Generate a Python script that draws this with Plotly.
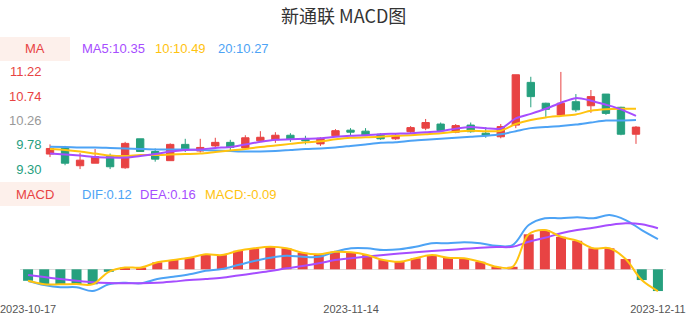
import plotly.graph_objects as go

W, H = 686, 320

dates = ["2023-10-17", "2023-10-18", "2023-10-19", "2023-10-20", "2023-10-23", "2023-10-24",
         "2023-10-25", "2023-10-26", "2023-10-27", "2023-10-30", "2023-10-31",
         "2023-11-01", "2023-11-02", "2023-11-03", "2023-11-06", "2023-11-07", "2023-11-08",
         "2023-11-09", "2023-11-10", "2023-11-13", "2023-11-14", "2023-11-15", "2023-11-16",
         "2023-11-17", "2023-11-20", "2023-11-21", "2023-11-22", "2023-11-23", "2023-11-24",
         "2023-11-27", "2023-11-28", "2023-11-29", "2023-11-30",
         "2023-12-01", "2023-12-04", "2023-12-05", "2023-12-06", "2023-12-07", "2023-12-08",
         "2023-12-11"]

open_ = [9.60, 9.72, 9.37, 9.42, 9.57, 9.33, 9.90, 9.65, 9.47, 9.79, 9.66, 9.76, 9.83, 9.72,
         9.86, 9.88, 9.97, 9.89, 9.80, 9.96, 10.07, 10.05, 9.99, 9.90, 10.04, 10.11, 10.19,
         10.03, 10.17, 10.01, 9.94, 10.17, 11.01, 10.60, 10.37, 10.63, 10.55, 10.78, 10.52, 9.99]
close = [9.71, 9.42, 9.48, 9.55, 9.35, 9.81, 9.65, 9.50, 9.79, 9.68, 9.73, 9.83, 9.73, 9.92,
         9.93, 9.97, 9.89, 9.86, 9.91, 10.06, 10.03, 9.97, 9.90, 9.97, 10.12, 10.22, 10.06,
         10.16, 10.04, 9.97, 10.14, 11.16, 10.73, 10.48, 10.60, 10.47, 10.73, 10.40, 9.99, 10.13]
high = [9.79, 9.76, 9.62, 9.70, 9.61, 9.84, 9.90, 9.71, 9.81, 9.90, 9.90, 9.92, 9.88, 9.97,
        10.05, 10.03, 10.01, 9.96, 9.93, 10.09, 10.11, 10.11, 10.01, 10.01, 10.15, 10.29, 10.22,
        10.19, 10.22, 10.13, 10.19, 11.16, 11.12, 10.61, 11.22, 10.78, 10.86, 10.78, 10.53, 10.15]
low = [9.54, 9.38, 9.30, 9.42, 9.30, 9.31, 9.65, 9.45, 9.47, 9.64, 9.63, 9.73, 9.68, 9.71,
       9.84, 9.82, 9.84, 9.79, 9.76, 9.94, 9.97, 9.97, 9.88, 9.88, 10.01, 10.07, 10.04,
       10.01, 10.02, 9.92, 9.91, 10.11, 10.52, 10.33, 10.37, 10.43, 10.41, 10.37, 9.97, 9.80]

ma5 = [9.61, 9.59, 9.57, 9.54, 9.53, 9.53, 9.56, 9.60, 9.65, 9.68, 9.69, 9.72, 9.74, 9.79,
       9.84, 9.88, 9.89, 9.90, 9.91, 9.94, 9.96, 9.97, 9.99, 10.00, 10.01, 10.03, 10.05,
       10.10, 10.13, 10.11, 10.10, 10.30, 10.39, 10.49, 10.61, 10.70, 10.65, 10.57, 10.48, 10.35]
ma10 = [9.70, 9.68, 9.65, 9.61, 9.57, 9.56, 9.58, 9.58, 9.59, 9.60, 9.61, 9.64, 9.67, 9.70,
        9.74, 9.77, 9.80, 9.83, 9.85, 9.89, 9.92, 9.93, 9.94, 9.96, 9.97, 9.99, 10.01,
        10.04, 10.06, 10.05, 10.06, 10.19, 10.27, 10.32, 10.35, 10.38, 10.45, 10.48, 10.49, 10.49]
ma20 = [9.745, 9.74, 9.73, 9.73, 9.72, 9.71, 9.70, 9.69, 9.69, 9.69, 9.68, 9.67, 9.66, 9.65,
        9.65, 9.66, 9.68, 9.70, 9.71, 9.73, 9.76, 9.79, 9.82, 9.83, 9.86, 9.88, 9.90,
        9.92, 9.94, 9.96, 9.99, 10.05, 10.11, 10.13, 10.15, 10.18, 10.22, 10.26, 10.26, 10.27]

dif = [-0.047, -0.063, -0.072, -0.072, -0.087, -0.060, -0.054, -0.056, -0.039, -0.030,
       -0.020, -0.006, 0.001, 0.017, 0.033, 0.046, 0.054, 0.050, 0.050, 0.070,
       0.084, 0.084, 0.077, 0.080, 0.090, 0.104, 0.104, 0.108, 0.104, 0.094,
       0.097, 0.177, 0.204, 0.204, 0.208, 0.204, 0.217, 0.197, 0.157, 0.121]
dea = [-0.023, -0.031, -0.039, -0.046, -0.052, -0.055, -0.056, -0.056, -0.054, -0.049,
       -0.043, -0.039, -0.034, -0.025, -0.016, -0.007, 0.004, 0.013, 0.024, 0.037,
       0.044, 0.051, 0.057, 0.063, 0.068, 0.073, 0.077, 0.082, 0.086, 0.089,
       0.090, 0.110, 0.126, 0.144, 0.157, 0.166, 0.177, 0.184, 0.180, 0.164]
macd = [-0.046, -0.060, -0.060, -0.059, -0.060, -0.010, 0.007, 0.007, 0.028, 0.037,
        0.046, 0.060, 0.057, 0.074, 0.084, 0.090, 0.084, 0.066, 0.060, 0.070,
        0.068, 0.057, 0.037, 0.030, 0.044, 0.057, 0.046, 0.044, 0.030, 0.010,
        0.010, 0.140, 0.157, 0.130, 0.114, 0.084, 0.084, 0.041, -0.043, -0.087]

price_ticks = [9.30, 9.78, 10.26, 10.74, 11.22]
price_tick_colors = ["#26a07e", "#26a07e", "#999999", "#e84343", "#e84343"]
xtick_labels = [dates[0], dates[20], dates[39]]

RED = "#e84343"
GREEN = "#26a07e"
PURPLE = "#a64dff"
YELLOW = "#ffc30f"
BLUE = "#4da3f5"
FONT = "Liberation Sans, Arial, sans-serif"


def px_y(y):
    return 1 - y / H


def px_x(x):
    return x / W


fig = go.Figure()

fig.add_trace(go.Candlestick(
    x=dates, open=open_, high=high, low=low, close=close,
    increasing=dict(line=dict(color=RED, width=1), fillcolor=RED),
    decreasing=dict(line=dict(color=GREEN, width=1), fillcolor=GREEN),
    whiskerwidth=0, xaxis="x", yaxis="y", showlegend=False,
))
for vals, col in [(ma20, BLUE), (ma10, YELLOW), (ma5, PURPLE)]:
    fig.add_trace(go.Scatter(x=dates, y=vals, mode="lines",
                             line=dict(color=col, width=2, shape="spline", smoothing=0.8),
                             xaxis="x", yaxis="y", showlegend=False))

fig.add_trace(go.Bar(x=dates, y=macd, marker=dict(color=[RED if v >= 0 else GREEN for v in macd],
                                                  line=dict(width=0)),
                     xaxis="x2", yaxis="y2", showlegend=False))
for vals, col in [(dif, BLUE), (dea, PURPLE), (macd, YELLOW)]:
    fig.add_trace(go.Scatter(x=dates, y=vals, mode="lines",
                             line=dict(color=col, width=2, shape="spline", smoothing=1.0),
                             xaxis="x2", yaxis="y2", showlegend=False))

annotations = [
    dict(text="新通联 MACD图", x=0.5, y=px_y(15), xref="paper", yref="paper",
         showarrow=False, font=dict(size=18, color="#333333", family="Noto Sans CJK SC"),
         xanchor="center", yanchor="middle"),
    dict(text="MA", x=px_x(35), y=px_y(49), xref="paper", yref="paper", showarrow=False,
         font=dict(size=13, color=RED, family=FONT), xanchor="center", yanchor="middle"),
    dict(text="MACD", x=px_x(35), y=px_y(194), xref="paper", yref="paper", showarrow=False,
         font=dict(size=13, color=RED, family=FONT), xanchor="center", yanchor="middle"),
]
legend_items = [
    ("MA5:10.35", PURPLE, 80, 48), ("10:10.49", YELLOW, 153, 48), ("20:10.27", BLUE, 216, 48),
    ("DIF:0.12", BLUE, 80, 194), ("DEA:0.16", PURPLE, 138, 194), ("MACD:-0.09", YELLOW, 203, 194),
]
for txt, col, x, y in legend_items:
    annotations.append(dict(text=txt, x=px_x(x), y=px_y(y), xref="paper", yref="paper",
                            showarrow=False, font=dict(size=13, color=col, family=FONT),
                            xanchor="left", yanchor="middle"))

shapes = [
    dict(type="rect", xref="paper", yref="paper", x0=0, x1=px_x(70), y0=px_y(61), y1=px_y(37),
         fillcolor="#fdf0eb", line=dict(width=0), layer="below"),
    dict(type="rect", xref="paper", yref="paper", x0=0, x1=px_x(70), y0=px_y(206), y1=px_y(182),
         fillcolor="#fdf0eb", line=dict(width=0), layer="below"),
]

fig.update_layout(
    width=W, height=H, margin=dict(l=0, r=0, t=0, b=0, autoexpand=False),
    paper_bgcolor="white", plot_bgcolor="white",
    font=dict(family=FONT, color="#333333"),
    bargap=0.38, showlegend=False,
    annotations=annotations, shapes=shapes,
    xaxis=dict(domain=[px_x(42.5), px_x(643.5)], type="category", range=[-0.5, 39.5],
               showticklabels=False, showgrid=False, zeroline=False, showline=False,
               rangeslider=dict(visible=False), anchor="y", automargin=False),
    yaxis=dict(domain=[px_y(169.3), px_y(71.7)], range=[9.30, 11.22], anchor="x",
               tickvals=price_ticks,
               ticktext=[f'<span style="color:{c}">{v:.2f}</span>'
                         for v, c in zip(price_ticks, price_tick_colors)],
               tickfont=dict(size=13, family=FONT), showgrid=False, zeroline=False,
               showline=False, ticks="", automargin=False),
    xaxis2=dict(domain=[px_x(20), px_x(666)], type="category", range=[-0.5, 39.5],
                tickvals=xtick_labels, ticktext=xtick_labels, tickangle=0,
                tickfont=dict(size=11, color="#555555", family=FONT), ticklabelstandoff=5,
                showgrid=False, zeroline=False, showline=False, ticks="", anchor="y2",
                automargin=False),
    yaxis2=dict(domain=[px_y(296), px_y(208)], range=[-0.1068, 0.2452], anchor="x2",
                showticklabels=False, showgrid=False, zeroline=True,
                zerolinecolor="#dddddd", zerolinewidth=1, showline=False, automargin=False),
)

fig.write_html("out.html")
